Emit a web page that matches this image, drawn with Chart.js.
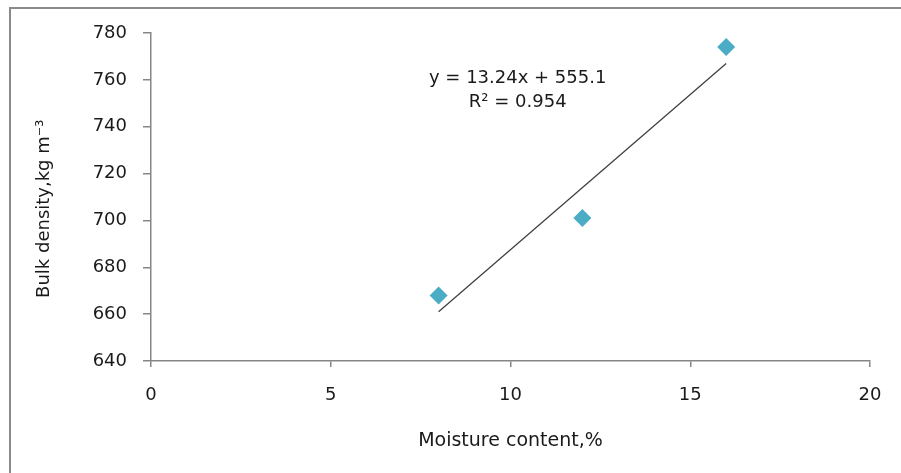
<!DOCTYPE html>
<html>
<head>
<meta charset="utf-8">
<script src="https://cdn.jsdelivr.net/npm/chart.js@4"></script>
<style>
  html, body { margin: 0; padding: 0; background: #fff; }
  #wrap { width: 901px; height: 473px; position: relative; }
</style>
</head>
<body>
<div id="wrap"><canvas id="c"></canvas></div>
<script>
// ─── Data ───────────────────────────────────────────────
const moisture = [8, 12, 16];
const density = [668, 701, 774];
const trendX = [8, 16];
const slope = 13.24, intercept = 555.1;   // from the chart's own equation label
const eqLines = ['y = 13.24x + 555.1', 'R² = 0.954'];
const yTitle = 'Bulk density,kg m⁻³';
const xTicks = [0, 5, 10, 15, 20];
const yTicks = [640, 660, 680, 700, 720, 740, 760, 780];

const AXIS = '#868686';
const INK = '#1a1a1a';
const FONT = "'DejaVu Sans', sans-serif";

// outer frame (only top + left visible in the crop), y title and trendline label
const framePlugin = {
    id: 'frame',
    beforeDraw(chart) {
        const ctx = chart.ctx;
        ctx.save();
        ctx.strokeStyle = '#8a8a8a';
        ctx.lineWidth = 2;
        ctx.strokeRect(10, 8, 1000, 1000);
        ctx.restore();
    },
    afterDraw(chart) {
        const ctx = chart.ctx;
        const xs = chart.scales.x, ys = chart.scales.y;
        const cx = xs.getPixelForValue(10.2);
        ctx.save();
        ctx.fillStyle = INK;
        ctx.font = '18px ' + FONT;
        ctx.textAlign = 'center';
        ctx.textBaseline = 'middle';
        ctx.fillText(eqLines[0], cx, ys.getPixelForValue(760.5));
        ctx.fillText(eqLines[1], cx, ys.getPixelForValue(750.2));
        // y axis title, sitting a little below the plot's middle like the original
        ctx.translate(44, ys.getPixelForValue(705));
        ctx.rotate(-Math.PI / 2);
        ctx.fillText(yTitle, 0, 0);
        ctx.restore();
    }
};

new Chart(document.getElementById('c'), {
    type: 'scatter',
    data: {
        datasets: [
            {
                label: 'Bulk density',
                data: moisture.map((x, i) => ({ x, y: density[i] })),
                pointStyle: 'rectRot',
                pointRadius: 9,
                pointHoverRadius: 9,
                backgroundColor: '#4bacc6',
                borderColor: '#4bacc6',
                borderWidth: 0,
                order: 1
            },
            {
                label: 'Linear',
                type: 'line',
                data: trendX.map(x => ({ x, y: slope * x + intercept })),
                borderColor: '#404040',
                borderWidth: 1.3,
                pointRadius: 0,
                fill: false,
                order: 2
            }
        ]
    },
    options: {
        responsive: true, maintainAspectRatio: false, animation: false,
        layout: { padding: { left: 10, right: 31, top: 33, bottom: 0 } },
        plugins: { legend: { display: false }, tooltip: { enabled: false } },
        scales: {
            x: {
                type: 'linear', min: 0, max: 20,
                afterBuildTicks: s => { s.ticks = xTicks.map(v => ({ value: v })); },
                afterFit: s => { s.height = 112; },
                border: { display: true, color: AXIS, width: 1.5 },
                grid: { display: true, drawOnChartArea: false, drawTicks: true, tickLength: 6, color: AXIS, lineWidth: 1.5 },
                ticks: { color: INK, font: { family: FONT, size: 18 }, padding: 18 },
                title: { display: true, text: 'Moisture content,%', color: INK, font: { family: FONT, size: 19 }, padding: { top: 4, bottom: 21 } }
            },
            y: {
                type: 'linear', min: 640, max: 780,
                afterBuildTicks: s => { s.ticks = yTicks.map(v => ({ value: v })); },
                afterFit: s => { s.width = 141; },
                border: { display: true, color: AXIS, width: 1.5 },
                grid: { display: true, drawOnChartArea: false, drawTicks: true, tickLength: 8, color: AXIS, lineWidth: 1.5 },
                ticks: { color: INK, font: { family: FONT, size: 18 }, padding: 16 },
                title: { display: false }
            }
        }
    },
    plugins: [framePlugin]
});
</script>
</body>
</html>
